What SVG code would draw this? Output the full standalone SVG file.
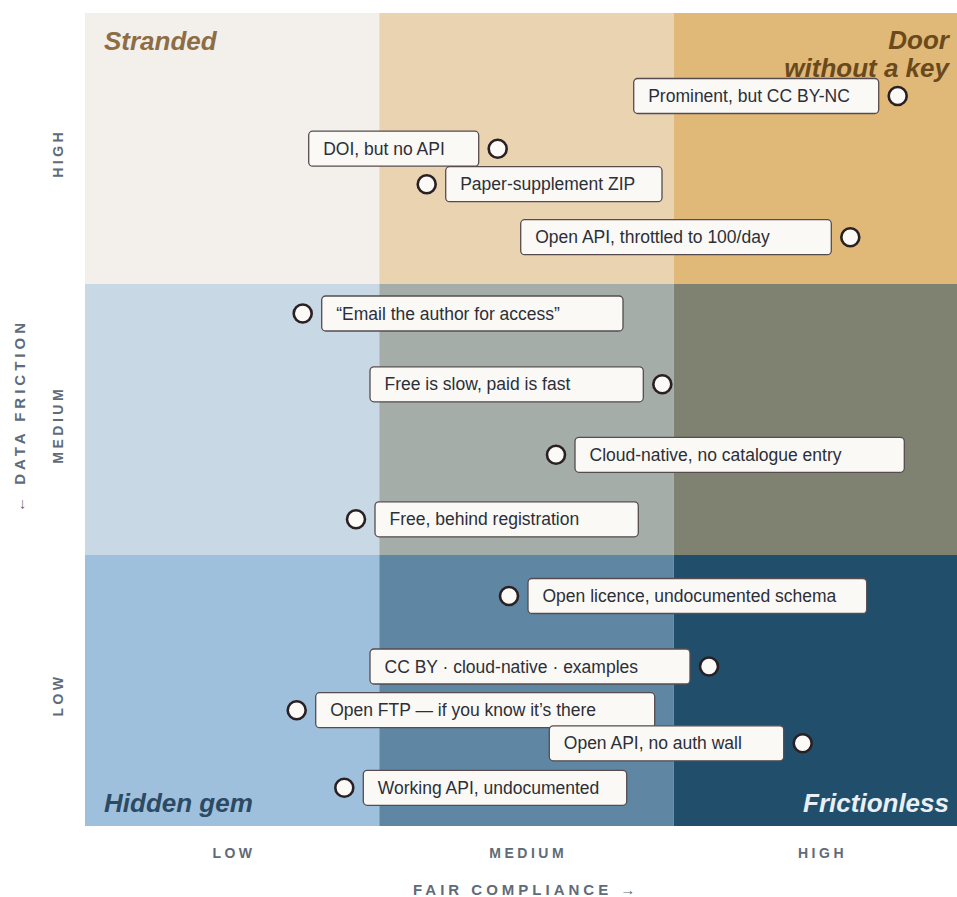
<svg xmlns="http://www.w3.org/2000/svg" width="957" height="897" viewBox="0 0 957 897">
<style>
.box{fill:#faf9f6;stroke:#564c4f;stroke-width:1.3}
.dot{fill:#fbfaf6;stroke:#2a2024;stroke-width:2.6}
.lbl{font-family:"Liberation Sans",Arial,sans-serif;font-size:17.5px;fill:#2c2f38}
.qt{font-family:"Liberation Sans",Arial,sans-serif;font-size:26px;font-weight:bold;font-style:italic}
.tick{font-family:"Liberation Sans",Arial,sans-serif;font-size:14px;font-weight:bold;fill:#5f6b78;letter-spacing:3.5px;text-anchor:middle}
.ttl{font-family:"Liberation Sans",Arial,sans-serif;font-size:15px;font-weight:bold;fill:#5f6b78;letter-spacing:4px;text-anchor:middle}
</style>
<rect width="957" height="897" fill="#ffffff"/>
<g id="grid">
<rect x="85" y="13" width="294.3" height="271" fill="#f3f0eb"/>
<rect x="379.3" y="13" width="294.4" height="271" fill="#e9d3b0"/>
<rect x="673.7" y="13" width="294.3" height="271" fill="#e0b878"/>
<rect x="85" y="284" width="294.3" height="271" fill="#c8d8e4"/>
<rect x="379.3" y="284" width="294.4" height="271" fill="#a4ada8"/>
<rect x="673.7" y="284" width="294.3" height="271" fill="#7f8270"/>
<rect x="85" y="555" width="294.3" height="271" fill="#9fc0dd"/>
<rect x="379.3" y="555" width="294.4" height="271" fill="#5f86a3"/>
<rect x="673.7" y="555" width="294.3" height="271" fill="#214f6b"/>
</g>
<g id="quadrant-titles">
<text class="qt" x="104" y="49.5" fill="#8c6d45">Stranded</text>
<text class="qt" x="949" y="49" fill="#6a4a1c" text-anchor="end">Door</text>
<text class="qt" x="949" y="77" fill="#6a4a1c" text-anchor="end">without a key</text>
<text class="qt" x="104" y="812" fill="#2c4a63">Hidden gem</text>
<text class="qt" x="949" y="812" fill="#e9eff4" text-anchor="end">Frictionless</text>
</g>
<g id="axes">
<text class="tick" x="234" y="858.3">LOW</text>
<text class="tick" x="528.2" y="858.3">MEDIUM</text>
<text class="tick" x="822.5" y="858.3">HIGH</text>
<text class="ttl" x="526.2" y="894.5">FAIR COMPLIANCE →</text>
<text class="tick" transform="translate(63.3 153.3) rotate(-90)">HIGH</text>
<text class="tick" transform="translate(63.3 424.8) rotate(-90)">MEDIUM</text>
<text class="tick" transform="translate(63.3 695) rotate(-90)">LOW</text>
<text class="ttl" transform="translate(25 415.5) rotate(-90)">← DATA FRICTION</text>
</g>
<g id="connectors"></g>
<g id="n1"><rect class="box" x="633.7" y="78.5" width="245" height="35" rx="4"/><circle class="dot" cx="897.7" cy="96" r="9"/><text class="lbl" x="648.2" y="102">Prominent, but CC BY-NC</text></g>
<g id="n2"><rect class="box" x="308.7" y="131.2" width="170" height="35" rx="4"/><circle class="dot" cx="497.7" cy="148.7" r="9"/><text class="lbl" x="323.2" y="154.7">DOI, but no API</text></g>
<g id="n3"><rect class="box" x="445.7" y="166.7" width="216.3" height="35" rx="4"/><circle class="dot" cx="426.7" cy="184.2" r="9"/><text class="lbl" x="460.2" y="190.2">Paper-supplement ZIP</text></g>
<g id="n4"><rect class="box" x="520.7" y="219.7" width="310.6" height="35" rx="4"/><circle class="dot" cx="850.3" cy="237.2" r="9"/><text class="lbl" x="535.2" y="243.2">Open API, throttled to 100/day</text></g>
<g id="n5"><rect class="box" x="321.7" y="296" width="301.3" height="35" rx="4"/><circle class="dot" cx="302.7" cy="313.5" r="9"/><text class="lbl" x="336.2" y="319.5">“Email the author for access”</text></g>
<g id="n6"><rect class="box" x="370" y="366.8" width="273.3" height="35" rx="4"/><circle class="dot" cx="662.3" cy="384.3" r="9"/><text class="lbl" x="384.5" y="390.3">Free is slow, paid is fast</text></g>
<g id="n7"><rect class="box" x="575" y="437.3" width="329.3" height="35" rx="4"/><circle class="dot" cx="556" cy="454.8" r="9"/><text class="lbl" x="589.5" y="460.8">Cloud-native, no catalogue entry</text></g>
<g id="n8"><rect class="box" x="375" y="501.8" width="263.3" height="35" rx="4"/><circle class="dot" cx="356" cy="519.3" r="9"/><text class="lbl" x="389.5" y="525.3">Free, behind registration</text></g>
<g id="n9"><rect class="box" x="528" y="578.5" width="338.7" height="35" rx="4"/><circle class="dot" cx="509" cy="596" r="9"/><text class="lbl" x="542.5" y="602">Open licence, undocumented schema</text></g>
<g id="n10"><rect class="box" x="370" y="649" width="320" height="35" rx="4"/><circle class="dot" cx="709" cy="666.5" r="9"/><text class="lbl" x="384.5" y="672.5">CC BY · cloud-native · examples</text></g>
<g id="n11"><rect class="box" x="315.7" y="692.7" width="339" height="35" rx="4"/><circle class="dot" cx="296.7" cy="710.2" r="9"/><text class="lbl" x="330.2" y="716.2">Open FTP — if you know it’s there</text></g>
<g id="n12"><rect class="box" x="549.3" y="725.8" width="234.4" height="35" rx="4"/><circle class="dot" cx="802.7" cy="743.3" r="9"/><text class="lbl" x="563.8" y="749.3">Open API, no auth wall</text></g>
<g id="n13"><rect class="box" x="363.3" y="770.3" width="263.4" height="35" rx="4"/><circle class="dot" cx="344.3" cy="787.8" r="9"/><text class="lbl" x="377.8" y="793.8">Working API, undocumented</text></g>
</svg>
